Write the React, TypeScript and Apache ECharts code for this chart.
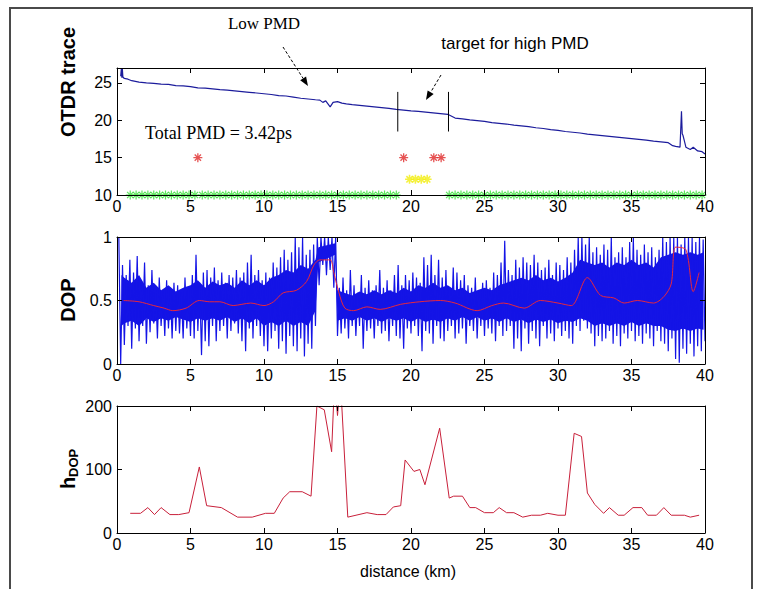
import React, { useEffect, useRef } from 'react';
import * as echarts from 'echarts';

// ---------- DATA ----------
// OTDR trace (km, dB)
const otdrKm = [0.25,0.3,0.33,0.36,0.4,0.5,0.75,1,1.5,2,2.5,3,3.5,4,4.5,5,5.5,6,6.5,7,7.5,8,8.5,9,9.5,10,10.5,11,11.5,12,12.5,13,13.5,13.8,14,14.2,14.5,14.7,15,15.3,15.6,16,16.5,17,17.5,18,18.5,19,19.5,20,20.5,21,21.5,22,22.5,22.7,23,23.5,24,24.5,25,25.5,26,26.5,27,27.5,28,28.5,29,29.5,30,30.5,31,31.5,32,32.5,33,33.5,34,34.5,35,35.5,36,36.5,37,37.5,37.8,38,38.3,38.4,38.45,38.5,38.6,38.7,39,39.2,39.5,39.8,40];
const otdrDb = [25.9,27,25.7,27,25.8,25.6,25.5,25.3,25.1,25.0,24.95,24.85,24.8,24.65,24.6,24.5,24.35,24.3,24.2,24.1,24.05,23.95,23.85,23.75,23.65,23.55,23.45,23.3,23.25,23.1,22.95,22.85,22.75,22.7,22.4,22.6,21.8,22.4,22.5,22.3,22.2,22.1,22.0,21.9,21.8,21.7,21.6,21.45,21.35,21.25,21.2,21.1,21.0,20.9,20.8,20.6,20.3,20.2,20.05,19.95,19.85,19.7,19.6,19.5,19.35,19.25,19.15,19.0,18.9,18.75,18.65,18.5,18.4,18.3,18.15,18.05,17.95,17.85,17.75,17.65,17.55,17.45,17.35,17.2,17.1,17.0,16.6,16.5,16.4,21.2,18.2,18.0,17.2,16.4,16.1,16.4,15.9,15.8,15.5];

// target section markers (km) and their vertical extent
const targetLineKm = [19.1, 22.55];
const targetLineLow = 18.5;
const targetLineHigh = 23.8;

// star markers
const redStarKm = [5.5, 19.5, 21.55, 22.05];
const redStarLevel = 15;
const yellowStarKm = [19.9, 20.3, 20.7, 21.1];
const yellowStarLevel = 12.1;
const greenStarKm = [0.9,1.3,1.7,2.1,2.5,2.9,3.3,3.7,4.1,4.5,4.9,5.3,5.8,6.2,6.6,7.0,7.4,7.8,8.2,8.6,9.0,9.4,9.8,10.2,10.6,11.0,11.4,11.8,12.2,12.6,13.0,13.4,13.8,14.2,14.6,15.0,15.4,15.8,16.2,16.6,17.0,17.4,17.8,18.2,18.6,19.0,22.6,23.0,23.4,23.8,24.2,24.6,25.0,25.4,25.8,26.2,26.6,27.0,27.4,27.8,28.2,28.6,29.0,29.4,29.8,30.2,30.6,31.0,31.4,31.8,32.2,32.6,33.0,33.4,33.8,34.2,34.6,35.0,35.4,35.8,36.2,36.6,37.0,37.4,37.8,38.2,38.6,39.0,39.4,39.8];
const greenStarLevel = 10;

// DOP raw trace: upper / lower swing every 0.25 km (4 per km, km 0..40)
const dopStepKm = 0.25;
const dopHi = [
  1.0,0.78,0.7,0.82, 0.72,0.85,0.66,0.8, 0.62,0.74,0.6,0.68, 0.58,0.66,0.6,0.64, 0.62,0.56,0.68,0.6,
  0.7,0.86,0.64,0.72, 0.74,0.68,0.76,0.66, 0.72,0.64,0.7,0.68, 0.74,0.68,0.72,0.8, 0.86,0.7,0.74,0.66,
  0.72,0.68,0.8,0.76, 0.84,0.9,0.82,0.88, 1.0,0.92,1.0,0.86, 0.9,0.94,1.0,1.0, 1.0,1.0,1.0,1.0,
  0.6,0.68,0.58,0.74, 0.62,0.56,0.7,0.6, 0.66,0.58,0.62,0.74, 0.6,0.66,0.58,0.7, 0.78,0.62,0.7,0.66,
  0.72,0.68,0.64,0.84, 0.78,0.86,0.7,0.82, 0.68,0.74,0.6,0.76, 0.72,0.66,0.7,0.62, 0.6,0.68,0.58,0.64,
  0.66,0.6,0.72,0.7, 0.8,0.97,0.74,0.7, 0.82,0.76,0.84,0.8, 0.78,0.86,0.8,0.74, 0.76,0.82,0.7,0.8,
  0.78,0.74,0.84,0.8, 0.9,1.0,1.0,0.94, 1.0,0.88,0.92,0.86, 0.94,0.9,1.0,0.84, 0.88,0.92,0.84,0.96,
  1.0,0.9,0.86,0.94, 0.88,0.92,0.84,0.9, 1.0,0.96,1.0,1.0, 1.0,0.94,1.0,1.0, 1.0,0.96,1.0,0.98,
];
const dopLo = [
  0.0,0.15,0.3,0.12, 0.28,0.18,0.3,0.16, 0.25,0.32,0.2,0.3, 0.22,0.28,0.2,0.26, 0.24,0.2,0.28,0.22,
  0.2,0.26,0.07,0.18, 0.14,0.3,0.18,0.26, 0.3,0.2,0.26,0.32, 0.24,0.18,0.1,0.28, 0.2,0.3,0.22,0.14,
  0.1,0.2,0.26,0.12, 0.18,0.08,0.22,0.14, 0.1,0.2,0.06,0.16, 0.12,0.3,0.62,0.78, 0.7,0.74,0.6,0.22,
  0.24,0.28,0.2,0.3, 0.22,0.3,0.12,0.26, 0.28,0.2,0.3,0.24, 0.26,0.18,0.3,0.22, 0.2,0.12,0.28,0.24,
  0.3,0.22,0.1,0.26, 0.24,0.16,0.3,0.2, 0.18,0.26,0.3,0.2, 0.24,0.28,0.16,0.3, 0.26,0.2,0.3,0.22,
  0.28,0.24,0.18,0.3, 0.22,0.26,0.3,0.12, 0.2,0.1,0.28,0.16, 0.26,0.2,0.14,0.3, 0.2,0.24,0.18,0.28,
  0.22,0.26,0.2,0.16, 0.3,0.26,0.34,0.28, 0.24,0.14,0.22,0.18, 0.2,0.26,0.16,0.22, 0.14,0.24,0.2,0.26,
  0.18,0.22,0.16,0.24, 0.2,0.14,0.26,0.18, 0.16,0.1,0.2,0.04, 0.01,0.12,0.08,0.16, 0.06,0.14,0.1,0.18,
];
// dense core of the DOP trace (solid blue band)
const dopCoreKm = [0.3,0.5,1,1.5,2,2.5,3,3.5,4,4.5,5,5.5,6,6.5,7,7.5,8,8.5,9,9.5,10,10.5,11,11.5,12,12.5,13,13.5,13.7,14.85,15.0,15.5,16,16.5,17,17.5,18,18.5,19,19.5,20,20.5,21,21.5,22,22.5,23,23.5,24,24.5,25,25.5,26,26.5,27,27.5,28,28.5,29,29.5,30,30.5,31,31.5,32,32.5,33,33.5,34,34.5,35,35.5,36,36.5,37,37.5,38,38.5,39,39.5,39.9];
const dopCoreHi = [0.7,0.68,0.64,0.7,0.6,0.64,0.58,0.62,0.57,0.6,0.62,0.66,0.6,0.65,0.62,0.64,0.6,0.66,0.62,0.66,0.62,0.68,0.7,0.74,0.72,0.78,0.75,0.82,0.92,0.95,0.58,0.56,0.54,0.57,0.55,0.58,0.55,0.58,0.56,0.6,0.57,0.62,0.6,0.64,0.6,0.62,0.58,0.6,0.56,0.58,0.6,0.58,0.62,0.64,0.66,0.68,0.66,0.7,0.66,0.68,0.65,0.68,0.72,0.82,0.8,0.78,0.8,0.76,0.8,0.78,0.82,0.78,0.8,0.76,0.84,0.86,0.88,0.86,0.88,0.86,0.88];
const dopCoreLo = [0.3,0.32,0.34,0.3,0.36,0.33,0.36,0.34,0.37,0.35,0.33,0.36,0.34,0.36,0.34,0.37,0.33,0.36,0.32,0.36,0.3,0.33,0.3,0.34,0.3,0.33,0.3,0.42,0.8,0.86,0.34,0.36,0.34,0.37,0.34,0.36,0.33,0.36,0.34,0.36,0.33,0.36,0.33,0.35,0.33,0.36,0.34,0.37,0.34,0.37,0.34,0.36,0.33,0.36,0.33,0.35,0.32,0.35,0.33,0.35,0.32,0.34,0.33,0.36,0.34,0.3,0.32,0.3,0.32,0.3,0.33,0.3,0.32,0.3,0.3,0.27,0.26,0.28,0.26,0.28,0.27];

// DOP smoothed (red)
const dopAvgKm = [0.45,1.5,2.5,3.2,3.8,4.7,5.6,6.3,7,7.9,8.5,9.1,10,10.65,11.3,12.2,12.9,13.4,13.8,14.5,14.75,15.1,15.5,16.1,17,17.9,19.3,20.6,22,23,24.5,25.5,26.3,27.7,28.8,30,30.9,32,32.9,33.8,34.5,35.4,36.5,37.2,37.7,38,38.7,39.2,39.6];
const dopAvg = [0.5,0.49,0.46,0.44,0.42,0.44,0.5,0.49,0.49,0.46,0.47,0.48,0.46,0.49,0.56,0.58,0.65,0.78,0.82,0.82,0.72,0.56,0.44,0.42,0.45,0.43,0.47,0.49,0.5,0.48,0.42,0.46,0.48,0.44,0.5,0.48,0.46,0.68,0.54,0.52,0.48,0.5,0.48,0.53,0.63,0.92,0.9,0.57,0.72];

// h_DOP
const hdopKm = [0.9,1.6,2.1,2.55,3.0,3.6,4.2,4.9,5.6,6.1,7.1,8.2,9.2,10.1,10.7,11.3,11.75,12.6,13.2,13.6,14.1,14.6,14.8,15.0,15.2,15.7,17.0,17.7,18.3,18.8,19.3,19.6,20.2,20.6,20.95,21.95,22.6,22.9,23.5,24.0,24.4,25.0,25.6,26.0,26.5,27.0,27.6,28.2,28.8,29.3,30.0,30.5,31.1,31.6,32.0,32.5,33.1,33.5,34.1,34.5,35.1,35.7,36.1,36.7,37.2,37.7,38.6,39.0,39.6];
const hdop = [31,31,40,29,40,29,29,32,104,43,40,25,25,31,31,55,65,65,58,200,194,128,240,185,240,25,32,29,29,41,43,115,97,100,76,165,55,58,58,40,40,32,32,40,32,32,25,28,28,31,28,28,157,152,63,45,31,40,28,28,40,40,28,28,40,28,28,25,28];

// ---------- STYLE ----------
const SANS = '"Liberation Sans", Arial, Helvetica, sans-serif';
const SERIF = '"Liberation Serif", "Times New Roman", serif';
const STAR = 'path://M5 0L5 10M0 5L10 5M1.5 1.5L8.5 8.5M1.5 8.5L8.5 1.5';
const DOP_BLUE = '#1414e6';

const GRIDS = [
  { left: 117, top: 68, width: 588, height: 127 },
  { left: 117, top: 237, width: 588, height: 127 },
  { left: 117, top: 406, width: 588, height: 127 },
];

function xAxes(gi: number) {
  const common = {
    gridIndex: gi, type: 'value', min: 0, max: 40, interval: 5,
    axisLine: { show: true, onZero: false, lineStyle: { color: '#000', width: 1 } },
    axisTick: { show: true, inside: true, length: 5, lineStyle: { color: '#000' } },
    splitLine: { show: false },
    z: 10,
  };
  return [
    { ...common, position: 'bottom', axisLabel: { color: '#000', fontSize: 16, fontFamily: SANS, margin: 3 } },
    { ...common, position: 'top', axisLabel: { show: false } },
  ];
}

function yAxes(gi: number, min: number, max: number, interval: number) {
  const common = {
    gridIndex: gi, type: 'value', min, max, interval,
    axisLine: { show: true, onZero: false, lineStyle: { color: '#000', width: 1 } },
    axisTick: { show: true, inside: true, length: 5, lineStyle: { color: '#000' } },
    splitLine: { show: false },
    z: 10,
  };
  return [
    {
      ...common, position: 'left',
      axisLabel: {
        color: '#000', fontSize: 16, fontFamily: SANS, margin: 5,
        formatter: (v: number) => (Math.abs(v / interval - Math.round(v / interval)) < 1e-9 ? String(v) : ''),
      },
    },
    { ...common, position: 'right', axisLabel: { show: false } },
  ];
}

function arrow(x1: number, y1: number, x2: number, y2: number) {
  const dx = x2 - x1, dy = y2 - y1;
  const L = Math.hypot(dx, dy);
  const ux = dx / L, uy = dy / L, nx = -uy, ny = ux;
  const head = 9, half = 3.5;
  const bx = x2 - ux * head, by = y2 - uy * head;
  return [
    { type: 'line', silent: true, shape: { x1, y1, x2: bx, y2: by }, style: { stroke: '#000', lineWidth: 1, lineDash: [3, 2] } },
    { type: 'polygon', silent: true, shape: { points: [[x2, y2], [bx + nx * half, by + ny * half], [bx - nx * half, by - ny * half]] }, style: { fill: '#000' } },
  ];
}

function starSeries(name: string, km: number[], level: number, color: string, size: number, width: number) {
  return {
    name, type: 'scatter', xAxisIndex: 0, yAxisIndex: 0,
    symbol: STAR, symbolSize: size,
    itemStyle: { color: 'rgba(0,0,0,0)', borderColor: color, borderWidth: width },
    data: km.map((k) => [k, level]),
    z: 5,
  };
}

export default function App() {
  const ref = useRef<HTMLDivElement>(null);
  useEffect(() => {
    if (!ref.current) return;
    const chart = echarts.init(ref.current, undefined, { renderer: 'svg' });

    const zig: number[][] = [];
    for (let i = 0; i < dopHi.length; i++) {
      const x = (i + 1) * dopStepKm;
      zig.push([x - dopStepKm / 2, dopHi[i]]);
      zig.push([x, dopLo[i]]);
    }

    const option: any = {
      animation: false,
      backgroundColor: '#fff',
      grid: GRIDS,
      xAxis: [...xAxes(0), ...xAxes(1), ...xAxes(2)],
      yAxis: [...yAxes(0, 10, 27, 5), ...yAxes(1, 0, 1, 0.5), ...yAxes(2, 0, 200, 100)],
      series: [
        {
          name: 'OTDR', type: 'line', xAxisIndex: 0, yAxisIndex: 0, showSymbol: false,
          lineStyle: { color: '#1c1c9c', width: 1.2 },
          data: otdrKm.map((k, i) => [k, otdrDb[i]]),
        },
        ...targetLineKm.map((k) => ({
          type: 'line', xAxisIndex: 0, yAxisIndex: 0, showSymbol: false,
          lineStyle: { color: '#000', width: 1 },
          data: [[k, targetLineLow], [k, targetLineHigh]],
        })),
        starSeries('green', greenStarKm, greenStarLevel, '#36e036', 9, 1.2),
        starSeries('red', redStarKm, redStarLevel, '#e02828', 9, 1.3),
        starSeries('yellow', yellowStarKm, yellowStarLevel, '#f2ee10', 9, 1.6),
        {
          name: 'DOPcore', type: 'custom', xAxisIndex: 2, yAxisIndex: 2, clip: true, silent: true,
          data: [[0, 0]],
          renderItem: (_p: any, api: any) => {
            const top = dopCoreKm.map((k, i) => api.coord([k, dopCoreHi[i]]));
            const bot = dopCoreKm.map((k, i) => api.coord([k, dopCoreLo[i]])).reverse();
            return { type: 'polygon', shape: { points: [...top, ...bot] }, style: { fill: DOP_BLUE } };
          },
          z: 2,
        },
        {
          name: 'DOP', type: 'line', xAxisIndex: 2, yAxisIndex: 2, showSymbol: false,
          lineStyle: { color: DOP_BLUE, width: 1.2 },
          data: zig,
          z: 3,
        },
        {
          name: 'DOPavg', type: 'line', xAxisIndex: 2, yAxisIndex: 2, showSymbol: false, smooth: 0.3,
          lineStyle: { color: '#e8283c', width: 1 },
          data: dopAvgKm.map((k, i) => [k, dopAvg[i]]),
          z: 4,
        },
        {
          name: 'hDOP', type: 'line', xAxisIndex: 4, yAxisIndex: 4, showSymbol: false,
          lineStyle: { color: '#c8203a', width: 1 },
          data: hdopKm.map((k, i) => [k, hdop[i]]),
        },
      ],
      graphic: [
        { type: 'rect', silent: true, shape: { x: 10, y: 8, width: 742, height: 620 }, style: { fill: 'none', stroke: '#4a4a4a', lineWidth: 2 } },
        { type: 'text', silent: true, x: 264, y: 23, style: { text: 'Low PMD', font: `17px ${SERIF}`, fill: '#000', textAlign: 'center', textVerticalAlign: 'middle' } },
        { type: 'text', silent: true, x: 515, y: 43, style: { text: 'target for high PMD', font: `17px ${SANS}`, fill: '#000', textAlign: 'center', textVerticalAlign: 'middle' } },
        { type: 'text', silent: true, x: 145, y: 133, style: { text: 'Total PMD = 3.42ps', font: `18px ${SERIF}`, fill: '#000', textAlign: 'left', textVerticalAlign: 'middle' } },
        ...arrow(283, 47, 308, 86),
        ...arrow(441, 75, 426, 100),
        { type: 'text', silent: true, x: 68, y: 82, rotation: Math.PI / 2, style: { text: 'OTDR trace', font: `bold 20px ${SANS}`, fill: '#000', textAlign: 'center', textVerticalAlign: 'middle' } },
        { type: 'text', silent: true, x: 68, y: 300, rotation: Math.PI / 2, style: { text: 'DOP', font: `bold 20px ${SANS}`, fill: '#000', textAlign: 'center', textVerticalAlign: 'middle' } },
        {
          type: 'group', x: 68, y: 489, rotation: Math.PI / 2, silent: true,
          children: [
            { type: 'text', x: 0, y: 0, style: { text: 'h', font: `bold 20px ${SANS}`, fill: '#000', textAlign: 'left', textVerticalAlign: 'middle' } },
            { type: 'text', x: 12, y: 5, style: { text: 'DOP', font: `bold 13px ${SANS}`, fill: '#000', textAlign: 'left', textVerticalAlign: 'middle' } },
          ],
        },
        { type: 'text', silent: true, x: 408, y: 571, style: { text: 'distance (km)', font: `16px ${SANS}`, fill: '#000', textAlign: 'center', textVerticalAlign: 'middle' } },
      ],
    };
    chart.setOption(option);
    return () => chart.dispose();
  }, []);
  return <div ref={ref} style={{ position: 'absolute', left: 0, top: 0, width: 766, height: 589 }} />;
}
